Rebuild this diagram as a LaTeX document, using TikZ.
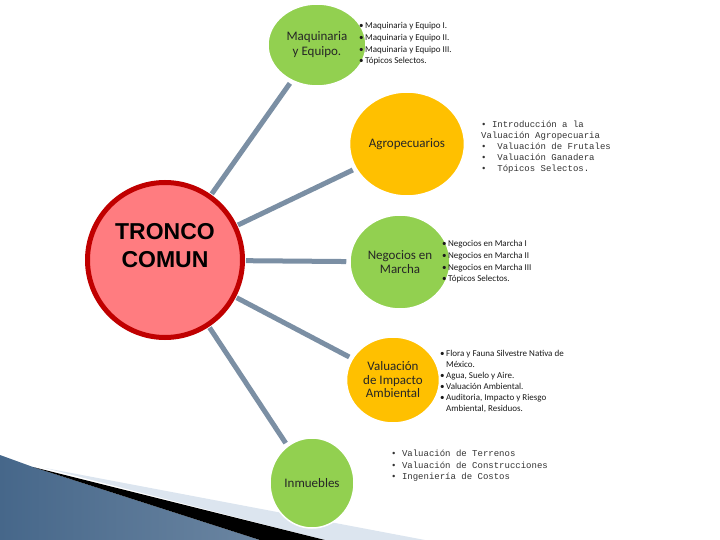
\documentclass[tikz,border=0pt]{standalone}
\usepackage{fontspec}
\setmainfont{Carlito}
\newfontfamily\arialfont{Liberation Sans}
\newfontfamily\typewfont{Liberation Mono}
\usepackage{xcolor}
\usetikzlibrary{positioning,shapes.geometric,calc}
\definecolor{leafgreen}{HTML}{92D050}
\definecolor{amber}{HTML}{FFC000}
\definecolor{salmon}{HTML}{FF7C80}
\definecolor{darkred}{HTML}{C00000}
\definecolor{slate}{HTML}{7B8FA4}
\definecolor{paleband}{HTML}{DCE5EF}
\definecolor{steeldark}{HTML}{46678A}
\definecolor{steellight}{HTML}{9CC1E3}
\tikzset{
  every node/.style={font=\fontsize{13}{13.5}\selectfont},
  topic/.style={ellipse, fill=leafgreen, draw=white, line width=1.5pt, inner sep=0pt, align=center, text=black!85},
  bullets/.style={anchor=west, align=left, inner sep=0pt, text=black!90, font=\fontsize{9}{11.7}\selectfont},
  typelist/.style={anchor=west, align=left, inner sep=0pt, text=black!80, font=\typewfont\fontsize{9}{11}\selectfont},
  spoke/.style={draw=slate, line width=5pt, shorten >=3pt, shorten <=1pt}
}
\newcommand{\bul}{\textbullet\,}
\newcommand{\hang}{\phantom{\textbullet\,}}

\begin{document}
\begin{tikzpicture}[x=1pt, y=-1pt]
\useasboundingbox (0,0) rectangle (720,540);

% 1. Slide decoration, bottom left
\fill[paleband] (45,468) -- (425,540) -- (325,540) -- cycle;
\shade[left color=steeldark, middle color=steellight, right color=steeldark!80]
  (0,455) -- (33,467) -- (260,540) -- (0,540) -- cycle;
\fill[black] (33,467) -- (325,540) -- (260,540) -- cycle;

% 2. Centre and topics
\node[circle, minimum size=155pt, inner sep=0pt, fill=salmon, draw=darkred, line width=5pt,
      align=center] (tronco) at (165,260) {};
\node[align=center, font=\arialfont\bfseries\fontsize{23}{28}\selectfont] (troncolbl) at (165,246) {TRONCO\\COMUN};

\node[topic, minimum width=98pt, minimum height=82pt] (maq) at (317,45) {Maquinaria\\[1.5pt]y Equipo.};
\node[topic, fill=amber, minimum width=115pt, minimum height=104pt] (agro) at (407,144) {\raisebox{-7pt}{Agropecuarios}};
\node[topic, minimum width=100pt, minimum height=94pt] (neg) at (400,262) {Negocios en\\Marcha};
\node[topic, fill=amber, minimum width=93pt, minimum height=86pt] (valu) at (393,380) {Valuación\\de Impacto\\Ambiental};
\node[topic, minimum width=84pt, minimum height=90pt] (inmu) at (312,483) {\raisebox{-4pt}{Inmuebles}};

% 3. Lists beside each topic
\node[bullets] (maqlist) at (359,44) {\bul Maquinaria y Equipo I.\\\bul Maquinaria y Equipo II.\\\bul Maquinaria y Equipo III.\\\bul Tópicos Selectos.};
\node[typelist] (agrolist) at (481,147) {• Introducción a la\\Valuación Agropecuaria\\•~ Valuación de Frutales\\•~ Valuación Ganadera\\•~ Tópicos Selectos.};
\node[bullets] (neglist) at (442,262) {\bul Negocios en Marcha I\\\bul Negocios en Marcha II\\\bul Negocios en Marcha III\\\bul Tópicos Selectos.};
\node[bullets, font=\fontsize{9}{11}\selectfont] (valulist) at (440,381.5) {\bul Flora y Fauna Silvestre Nativa de\\\hang México.\\\bul Agua, Suelo y Aire.\\\bul Valuación Ambiental.\\\bul Auditoria, Impacto y Riesgo\\\hang Ambiental, Residuos.};
\node[typelist, font=\typewfont\fontsize{9}{11.5}\selectfont] (inmulist) at (391,466) {• Valuación de Terrenos\\• Valuación de Construcciones\\• Ingeniería de Costos};

% 4. Spokes
\draw[spoke] (tronco) -- (maq);
\draw[spoke] (tronco) -- (agro);
\draw[spoke] (tronco) -- (neg);
\draw[spoke] (tronco) -- (valu);
\draw[spoke] (tronco) -- (inmu);

\end{tikzpicture}
\end{document}
